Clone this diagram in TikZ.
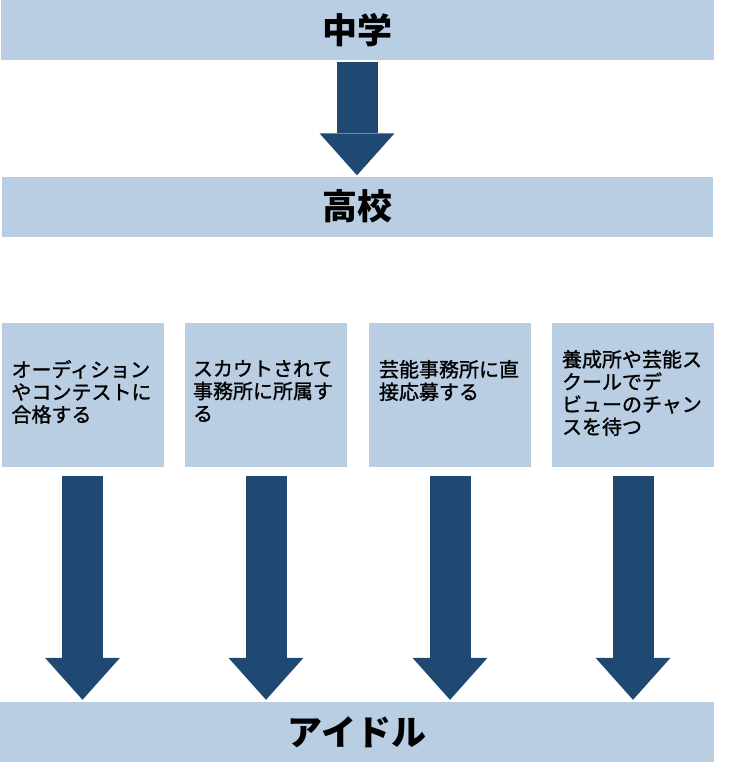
\documentclass[tikz,border=0pt]{standalone}
\usepackage{fontspec}
\setmainfont{Noto Sans CJK JP}
\newfontfamily\routefont[FakeBold=1.2]{Noto Sans CJK JP}
\usetikzlibrary{arrows.meta}
\definecolor{barblue}{RGB}{185,205,227}
\definecolor{arrowblue}{RGB}{31,73,114}
\tikzset{
  stagebar/.style={fill=barblue, minimum width=713pt, minimum height=60pt, inner sep=0pt, font=\fontsize{35}{40}\selectfont\bfseries},
  route/.style={fill=barblue, minimum width=162pt, minimum height=144pt, inner sep=0pt},
  routetext/.style={anchor=north west, inner sep=0pt, align=left, font=\routefont\fontsize{20}{22.5}\selectfont},
  fatarrow/.style={draw=arrowblue, line width=41pt, -{Triangle[width=75pt,length=42pt,line width=0pt]}}
}

\begin{document}
\begin{tikzpicture}[x=1pt,y=1pt]
    \useasboundingbox (0,0) rectangle (736,-764);
    % Nodes
    \node[stagebar] (jhs) at (357,-30) {中学};
    \node[stagebar, minimum width=711pt] (hs) at (357.5,-206.5) {高校};
    \node[route] (audition) at (82.5,-395) {};
    \node[route] (scout) at (266,-395) {};
    \node[route] (apply) at (450,-395) {};
    \node[route] (school) at (633,-395) {};
    \node[stagebar, minimum width=714pt] (idol) at (357,-732) {アイドル};
    % Texts
    \node[routetext] (auditiontext) at ([shift={(10,-37)}]audition.north west) {オーディション\\やコンテストに\\合格する};
    \node[routetext] (scouttext) at ([shift={(8,-37)}]scout.north west) {スカウトされて\\事務所に所属す\\る};
    \node[routetext] (applytext) at ([shift={(10,-37)}]apply.north west) {芸能事務所に直\\接応募する};
    \node[routetext] (schooltext) at ([shift={(10,-27)}]school.north west) {養成所や芸能ス\\クールでデ\\ビューのチャン\\スを待つ};
    % Arrows
    \draw[fatarrow, shorten <=2pt, shorten >=1pt] (jhs) -- (jhs |- hs.north);
    \draw[fatarrow, shorten <=9pt, shorten >=2pt] (audition) -- (audition |- idol.north);
    \draw[fatarrow, shorten <=9pt, shorten >=2pt] (scout) -- (scout |- idol.north);
    \draw[fatarrow, shorten <=9pt, shorten >=2pt] (apply) -- (apply |- idol.north);
    \draw[fatarrow, shorten <=9pt, shorten >=2pt] (school) -- (school |- idol.north);
\end{tikzpicture}
\end{document}
